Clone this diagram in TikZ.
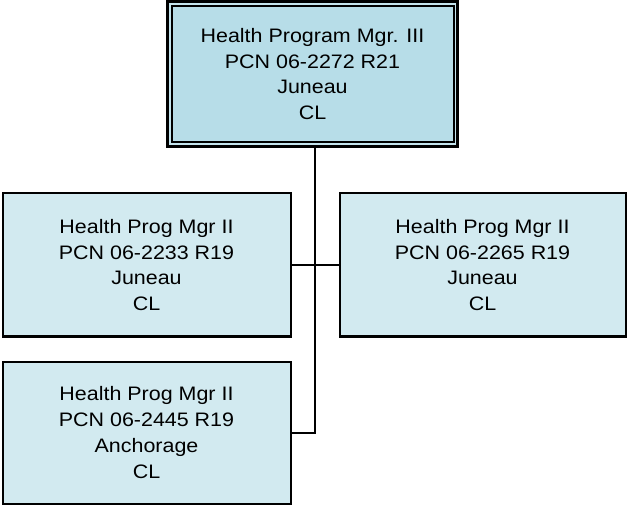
\documentclass[tikz,border=0pt]{standalone}
\usepackage{fontspec}
\setmainfont{Liberation Sans}[FakeStretch=1.1]
\definecolor{topfill}{RGB}{183,221,232}
\definecolor{topband}{RGB}{196,228,237}
\definecolor{boxfill}{RGB}{210,234,240}
\begin{document}
\begin{tikzpicture}[x=1pt,y=1pt,
  posbox/.style={draw=black, line width=2pt, fill=boxfill, align=center,
    inner sep=0pt, font=\fontsize{19.5}{25.7}\selectfont},
  conn/.style={draw=black, line width=1.8pt}]
\useasboundingbox (0,0) rectangle (627,-505);
\node[posbox, line width=2.4pt, fill=topband, minimum width=290pt, minimum height=145pt] (top) at (312.5,-74) {};
\draw[line width=1.8pt, fill=topfill] ([shift={(6pt,-6pt)}]top.north west) rectangle ([shift={(-5pt,6pt)}]top.south east);
\node[align=center, inner sep=0pt, font=\fontsize{19.5}{25.7}\selectfont] (toptext) at (top.center) {Health Program Mgr. III\\PCN 06-2272 R21\\Juneau\\CL};
\node[posbox, minimum width=288pt, minimum height=143pt] (a) at (146.5,-265) {Health Prog Mgr II\\PCN 06-2233 R19\\Juneau\\CL};
\node[posbox, minimum width=286pt, minimum height=143pt] (b) at (482.5,-265) {Health Prog Mgr II\\PCN 06-2265 R19\\Juneau\\CL};
\node[posbox, minimum width=288pt, minimum height=142pt] (c) at (146.5,-432.5) {Health Prog Mgr II\\PCN 06-2445 R19\\Anchorage\\CL};
\coordinate (t1) at (315,-265);
\coordinate (t2) at (315,-433);
\draw[conn] (top.south -| t1) -- (t2) -- (c.east |- t2);
\draw[conn] (a.east |- t1) -- (b.west |- t1);
\end{tikzpicture}
\end{document}
